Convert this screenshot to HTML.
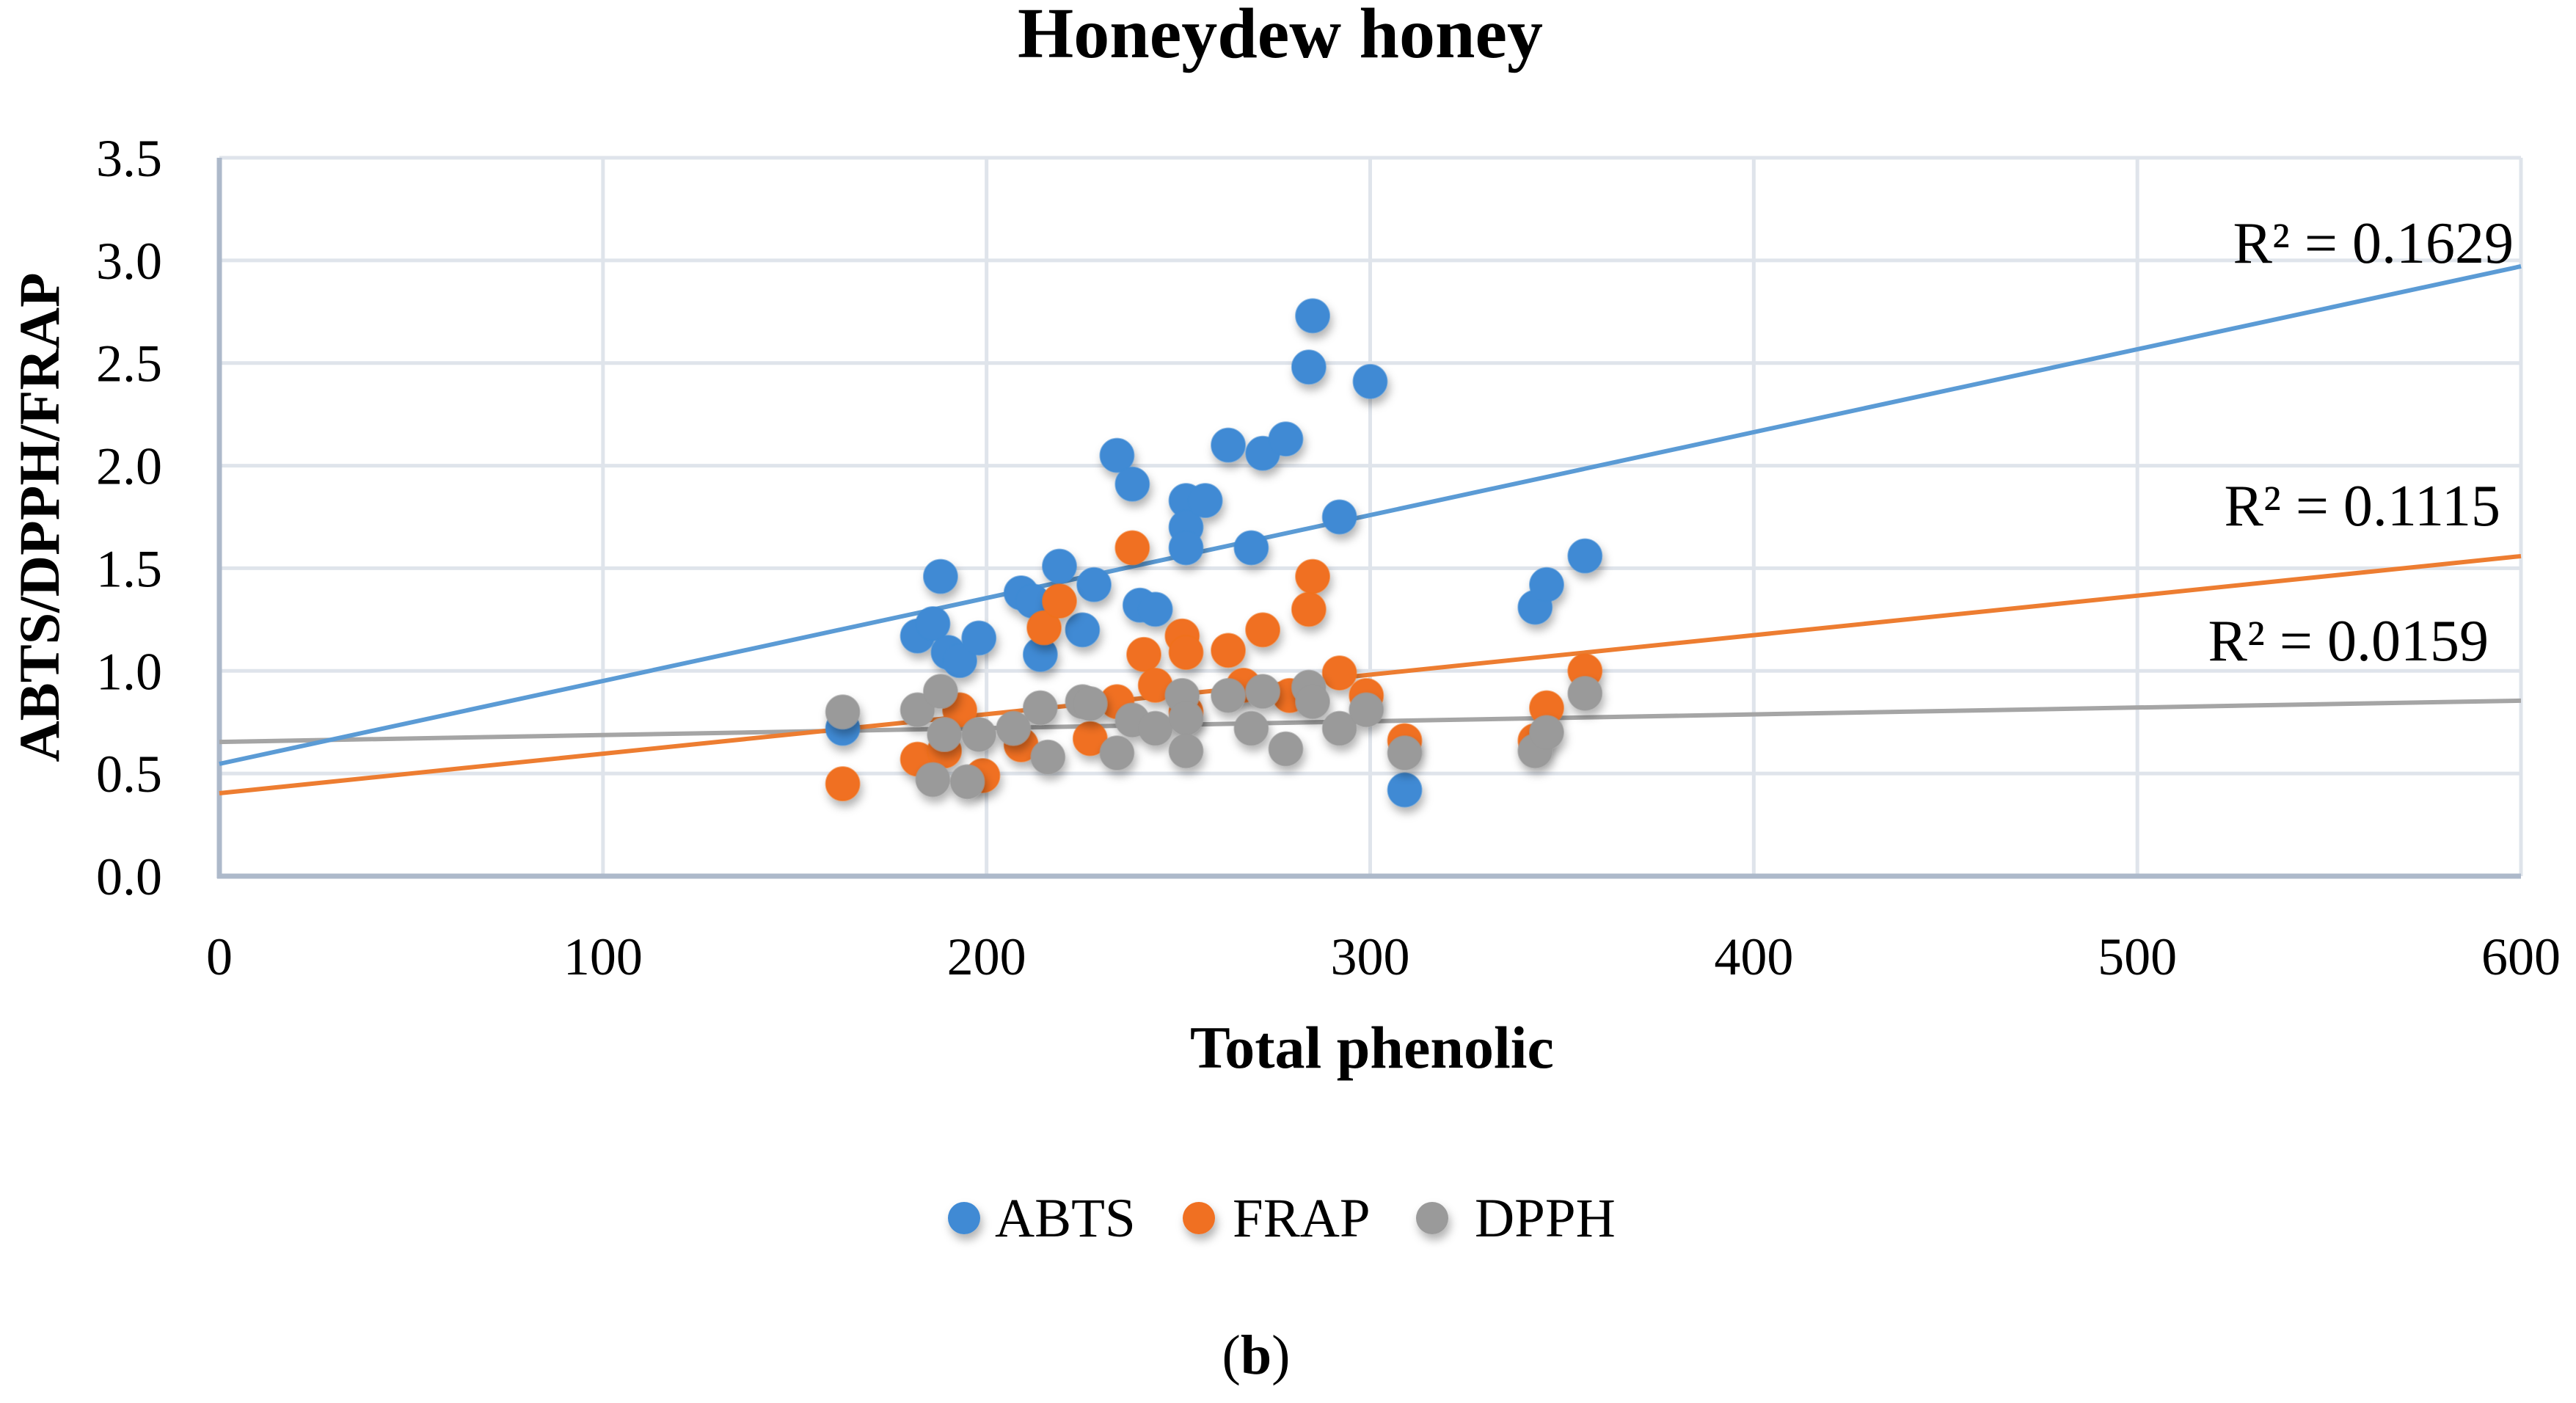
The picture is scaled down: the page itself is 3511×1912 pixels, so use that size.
<!DOCTYPE html>
<html><head><meta charset="utf-8"><style>
html,body{margin:0;padding:0;background:#fff;}
svg{display:block;font-family:"Liberation Serif",serif;}
</style></head>
<body>
<svg id="chart" width="3511" height="1912" viewBox="0 0 3511 1912" xmlns="http://www.w3.org/2000/svg">
<defs>
<filter id="sh" x="-50%" y="-50%" width="200%" height="200%"><feDropShadow dx="3" dy="8" stdDeviation="6" flood-color="#000" flood-opacity="0.3"/></filter>
</defs>
<text x="1745" y="78" text-anchor="middle" font-size="98" font-weight="bold">Honeydew honey</text>
<g id="grid"></g>
<g id="axes"></g>
<g id="trends"></g>
<g id="points"></g>
<text transform="translate(80,705) rotate(-90)" text-anchor="middle" font-size="78" font-weight="bold">ABTS/DPPH/FRAP</text>
<text x="1870" y="1455" text-anchor="middle" font-size="82" font-weight="bold">Total phenolic</text>
<text x="3426" y="358" text-anchor="end" font-size="80">R² = 0.1629</text>
<text x="3408" y="716" text-anchor="end" font-size="80">R² = 0.1115</text>
<text x="3392" y="900" text-anchor="end" font-size="80">R² = 0.0159</text>
<g>
  <g><circle cx="1314" cy="1660" r="22" fill="#3f8ad4" filter="url(#sh)"/><text x="1356" y="1685" font-size="75">ABTS</text></g>
  <g><circle cx="1634" cy="1660" r="22" fill="#f07020" filter="url(#sh)"/><text x="1680" y="1685" font-size="75">FRAP</text></g>
  <g><circle cx="1952" cy="1660" r="22" fill="#9a9a9a" filter="url(#sh)"/><text x="2010" y="1685" font-size="75">DPPH</text></g>
</g>
<text x="1712" y="1872" text-anchor="middle" font-size="76">(<tspan font-weight="bold">b</tspan>)</text>
</svg>
<script>
const xTicks = [0,100,200,300,400,500,600];
const yTicks = [0.0,0.5,1.0,1.5,2.0,2.5,3.0,3.5];
const abtsX = [162.5,182,186,188,190,193,198,209,212,214,219,225,228,234,238,240,244,252,252,252,257,263,269,272,278,284,285,292,300,309,343,346,356];
const abtsY = [0.72,1.17,1.23,1.46,1.09,1.05,1.16,1.38,1.34,1.08,1.51,1.20,1.42,2.05,1.91,1.32,1.30,1.83,1.70,1.60,1.83,2.10,1.60,2.06,2.13,2.48,2.73,1.75,2.41,0.42,1.31,1.42,1.56];
const frapX = [162.5,182,189,193,199,209,215,219,227,234,238,241,244,251,252,252,263,267,272,279,284,285,292,299,309,343,346,356];
const frapY = [0.45,0.57,0.61,0.81,0.49,0.64,1.21,1.34,0.67,0.85,1.60,1.08,0.93,1.17,1.09,0.80,1.10,0.93,1.20,0.88,1.30,1.46,0.99,0.88,0.66,0.66,0.82,1.00];
const dpphX = [162.5,182,188,189,195,186,198,207,214,216,225,227,234,238,244,251,252,252,263,269,272,278,284,285,292,299,309,343,346,356];
const dpphY = [0.80,0.81,0.90,0.69,0.46,0.47,0.69,0.72,0.82,0.58,0.85,0.84,0.60,0.76,0.72,0.88,0.77,0.61,0.88,0.72,0.90,0.62,0.92,0.85,0.72,0.81,0.60,0.61,0.70,0.89];
// trendline parameters (ABTS, FRAP, DPPH)
const trendIntercepts = [0.547, 0.404, 0.654];
const trendSlopes = [0.004040, 0.001925, 0.000335];

const X0=299, X1=3436, Y0=1194, Y1=215;
const sx = v => X0 + (v-0)/(600-0)*(X1-X0);
const sy = v => Y0 - (v-0)/(3.5-0)*(Y0-Y1);
const NS="http://www.w3.org/2000/svg";
function mk(tag, attrs, parent){const e=document.createElementNS(NS,tag);for(const k in attrs)e.setAttribute(k,attrs[k]);parent.appendChild(e);return e;}
const grid=document.getElementById('grid'), axes=document.getElementById('axes');
yTicks.forEach(t=>{
  const l=mk('line',{x1:X0,x2:X1,y1:sy(t),y2:sy(t),stroke:'#dfe4eb','stroke-width':5},grid);
  
  
  const tx=mk('text',{x:221,y:sy(t)+25,'text-anchor':'end','font-size':72},axes);
  tx.textContent=t.toFixed(1);
  
  
});
xTicks.forEach(t=>{
  const l=mk('line',{x1:sx(t),x2:sx(t),y1:Y1,y2:Y0,stroke:'#dfe4eb','stroke-width':5},grid);
  
  
  const tx=mk('text',{x:sx(t),y:1328,'text-anchor':'middle','font-size':72},axes);
  tx.textContent=String(t);
  
  
});
const ax1=mk('line',{x1:X0,x2:X0,y1:Y1,y2:Y0+3,stroke:'#adb9ca','stroke-width':7},axes);


const ax2=mk('line',{x1:X0-3,x2:X1,y1:Y0,y2:Y0,stroke:'#adb9ca','stroke-width':7},axes);



const series=[
  {name:'abts',xs:abtsX,ys:abtsY,fill:'#3f8ad4',line:'#5b9bd5'},
  {name:'frap',xs:frapX,ys:frapY,fill:'#f07020',line:'#ed7d31'},
  {name:'dpph',xs:dpphX,ys:dpphY,fill:'#9a9a9a',line:'#a5a5a5'}
];
const trends=document.getElementById('trends'), pts=document.getElementById('points');
[2,1,0].forEach(i=>{
  const s=series[i], a=trendIntercepts[i], b=trendSlopes[i];
  const tl=mk('line',{x1:sx(0),y1:sy(a),x2:sx(600),y2:sy(a+b*600),stroke:s.line,'stroke-width':6},trends);
  
  
});
series.forEach(s=>{
  const g=mk('g',{filter:'url(#sh)'},pts);
  
  
  s.xs.forEach((xv,i)=>{
    const c=mk('circle',{cx:sx(xv),cy:sy(s.ys[i]),r:23,fill:s.fill,stroke:s.fill,'stroke-opacity':0.6,'stroke-width':2},g);
    
    
  });
});
</script>
</body></html>
